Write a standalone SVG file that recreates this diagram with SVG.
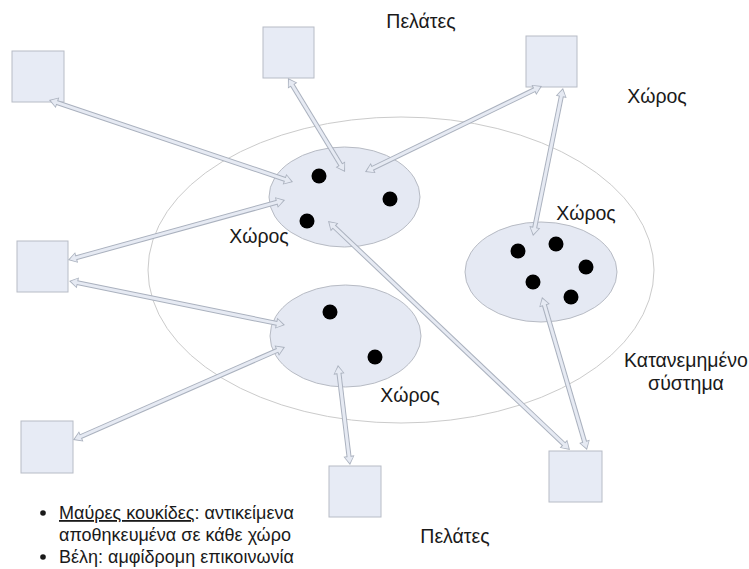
<svg xmlns="http://www.w3.org/2000/svg" width="749" height="569" viewBox="0 0 749 569">
<style>
text{font-family:"Liberation Sans",Arial,sans-serif;font-size:19.5px;fill:#1a1a1a}
#legend text{font-size:18px}
.box{fill:#e7ebf5;stroke:#b7bcc6;stroke-width:1}
.sp{fill:#e5e9f3;stroke:#b7bbc4;stroke-width:1}
.sys{fill:none;stroke:#cbcbcb;stroke-width:1}
.dot{fill:#000}
.co{stroke:#aab1be;stroke-width:5;fill:none;marker-start:url(#ho);marker-end:url(#ho)}
.ci{stroke:#e6eaf3;stroke-width:3;fill:none;marker-start:url(#hi);marker-end:url(#hi)}
</style>
<defs>
<marker id="ho" markerUnits="userSpaceOnUse" orient="auto-start-reverse" markerWidth="20" markerHeight="20" refX="0" refY="0" viewBox="-10 -10 20 20" overflow="visible">
<path d="M-2,-5.5 L7,0 L-2,5.5 Z" fill="#aab1be"/>
</marker>
<marker id="hi" markerUnits="userSpaceOnUse" orient="auto-start-reverse" markerWidth="20" markerHeight="20" refX="0" refY="0" viewBox="-10 -10 20 20" overflow="visible">
<path d="M-1.1,-4.2 L5.2,0 L-1.1,4.2 Z" fill="#e6eaf3"/>
</marker>
</defs>
<rect width="749" height="569" fill="#fff"/>
<g id="system">
<ellipse class="sys" cx="401" cy="270" rx="253" ry="153"/>
<text x="686" y="367" text-anchor="middle">Κατανεμημένο</text>
<text x="686" y="390" text-anchor="middle">σύστημα</text>
</g>
<g id="space1">
<ellipse class="sp" cx="344.5" cy="197" rx="75.5" ry="50"/>
<circle class="dot" cx="319" cy="176" r="7.5"/>
<circle class="dot" cx="307" cy="221" r="7.5"/>
<circle class="dot" cx="390" cy="199" r="7.5"/>
<text x="259" y="243" text-anchor="middle">Χώρος</text>
</g>
<g id="space2">
<ellipse class="sp" cx="541" cy="272" rx="76" ry="50"/>
<circle class="dot" cx="518" cy="251" r="7.5"/>
<circle class="dot" cx="556" cy="244" r="7.5"/>
<circle class="dot" cx="586" cy="267" r="7.5"/>
<circle class="dot" cx="533" cy="282" r="7.5"/>
<circle class="dot" cx="571" cy="297" r="7.5"/>
<text x="586" y="220" text-anchor="middle">Χώρος</text>
</g>
<g id="space3">
<ellipse class="sp" cx="345.5" cy="336" rx="75.5" ry="51"/>
<circle class="dot" cx="330" cy="312" r="7.5"/>
<circle class="dot" cx="375" cy="357" r="7.5"/>
<text x="410" y="402" text-anchor="middle">Χώρος</text>
</g>
<g id="client1"><rect class="box" x="12" y="51" width="52" height="51"/></g>
<g id="client2"><rect class="box" x="263" y="27" width="51" height="51"/></g>
<g id="client3"><rect class="box" x="526" y="36" width="51" height="51"/></g>
<g id="client4"><rect class="box" x="17" y="241" width="51" height="51"/></g>
<g id="client5"><rect class="box" x="21" y="421" width="52" height="52"/></g>
<g id="client6"><rect class="box" x="329" y="466" width="52" height="51"/></g>
<g id="client7"><rect class="box" x="549" y="451" width="53" height="51"/></g>
<g id="connectors">
<g>
<line class="co" x1="55.6" y1="102.2" x2="286.4" y2="179.8"/>
<line class="co" x1="291.6" y1="84" x2="341.4" y2="166"/>
<line class="co" x1="535.7" y1="89.1" x2="371.3" y2="168.9"/>
<line class="co" x1="561.6" y1="94.9" x2="534.4" y2="229.1"/>
<line class="co" x1="74.7" y1="258.1" x2="278.3" y2="201.9"/>
<line class="co" x1="75.9" y1="282.4" x2="278.1" y2="323.6"/>
<line class="co" x1="79.4" y1="437.2" x2="278.6" y2="349.8"/>
<line class="co" x1="338.8" y1="372" x2="349.2" y2="458"/>
<line class="co" x1="333.1" y1="225.8" x2="564.9" y2="445.2"/>
<line class="co" x1="544" y1="303.7" x2="585" y2="443.3"/>
</g>
<g>
<line class="ci" x1="55.6" y1="102.2" x2="286.4" y2="179.8"/>
<line class="ci" x1="291.6" y1="84" x2="341.4" y2="166"/>
<line class="ci" x1="535.7" y1="89.1" x2="371.3" y2="168.9"/>
<line class="ci" x1="561.6" y1="94.9" x2="534.4" y2="229.1"/>
<line class="ci" x1="74.7" y1="258.1" x2="278.3" y2="201.9"/>
<line class="ci" x1="75.9" y1="282.4" x2="278.1" y2="323.6"/>
<line class="ci" x1="79.4" y1="437.2" x2="278.6" y2="349.8"/>
<line class="ci" x1="338.8" y1="372" x2="349.2" y2="458"/>
<line class="ci" x1="333.1" y1="225.8" x2="564.9" y2="445.2"/>
<line class="ci" x1="544" y1="303.7" x2="585" y2="443.3"/>
</g>
</g>
<g id="labels">
<text x="421" y="28" text-anchor="middle">Πελάτες</text>
<text x="657" y="103" text-anchor="middle">Χώρος</text>
<text x="455" y="543" text-anchor="middle">Πελάτες</text>
</g>
<g id="legend">
<circle cx="43" cy="513" r="2.8" fill="#1a1a1a"/>
<text x="59" y="519"><tspan text-decoration="underline">Μαύρες κουκίδες</tspan>: αντικείμενα</text>
<text x="59" y="541">αποθηκευμένα σε κάθε χώρο</text>
<circle cx="43" cy="557" r="2.8" fill="#1a1a1a"/>
<text x="59" y="563">Βέλη: αμφίδρομη επικοινωνία</text>
</g>
</svg>
